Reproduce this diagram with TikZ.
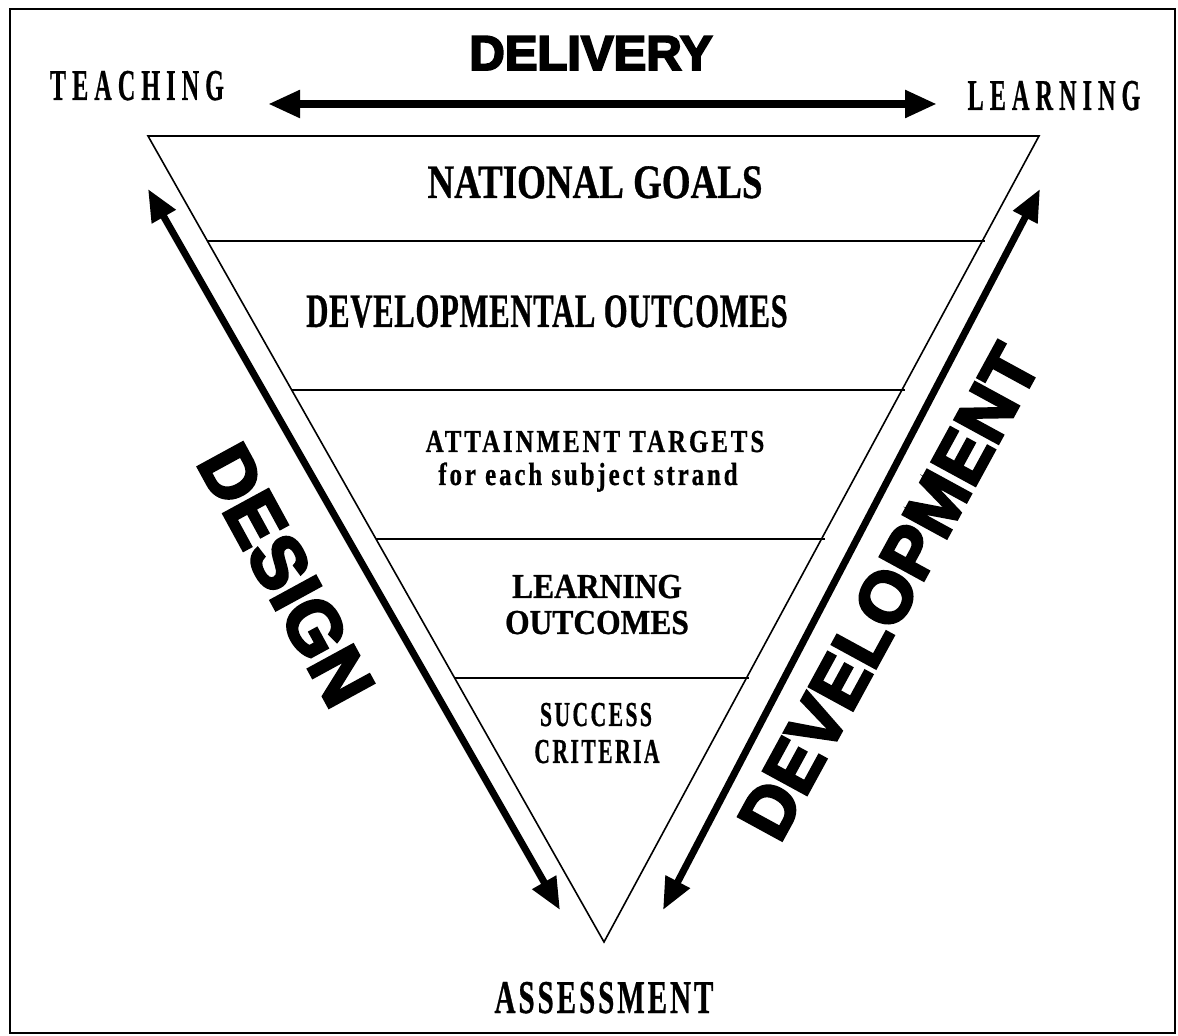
\documentclass[tikz,border=0pt]{standalone}
\usepackage{fontspec}
\setmainfont{Liberation Serif}[BoldFeatures={FakeBold=0.8}]
\newfontfamily\blocksans{Liberation Sans}[BoldFeatures={FakeBold=4}]
\usetikzlibrary{arrows.meta,calc}

% squeeze a label horizontally
\newcommand\narrow[2]{\scalebox{#1}[1]{#2}}

\tikzset{
  lbl/.style 2 args={anchor=base, inner sep=0pt,
    font=\bfseries\fontsize{#1}{#1}\selectfont\addfontfeature{LetterSpace=#2}},
  bigword/.style={inner sep=0pt, font=\blocksans\bfseries\fontsize{#1}{#1}\selectfont},
  bigarrow/.style={{Triangle[length=16pt,width=13pt]}-{Triangle[length=16pt,width=13pt]},
    line width=#1},
  level/.style={line width=1.1pt}
}

\begin{document}
\begin{tikzpicture}[x=0.5pt,y=-0.5pt]
\useasboundingbox (0,0) rectangle (1178,1036);
\draw[line width=1.4pt] (10,9) rectangle (1175,1033);

% the inverted triangle and its bands
\coordinate (tl) at (148,136);
\coordinate (tr) at (1039,136);
\coordinate (bot) at (604,942);
\draw[line width=0.8pt] (tl) -- (tr) -- (bot) -- cycle;
\foreach \t in {0.1303,0.3151,0.5,0.6725}
  \draw[level] ($(tl)!\t!(bot)$) -- ($(tr)!\t!(bot)+(3,0)$);

% band labels
\node[lbl={24pt}{0}] (goals) at (595,198) {\narrow{0.77}{NATIONAL GOALS}};
\node[lbl={24pt}{2.2}] (devout) at (547,327) {\narrow{0.64}{DEVELOPMENTAL OUTCOMES}};
\node[lbl={16pt}{11.7}] (attain) at (595,452) {\narrow{0.78}{ATTAINMENT TARGETS}};
\node[lbl={16pt}{11.5}] (strand) at (588,485) {\narrow{0.78}{for each subject strand}};
\node[lbl={17.5pt}{0}] (learn) at (597,598) {\narrow{0.9}{LEARNING}};
\node[lbl={17.5pt}{0}] (learnout) at (597,634) {\narrow{0.9}{OUTCOMES}};
\node[lbl={17.5pt}{11}] (success) at (596,726) {\narrow{0.62}{SUCCESS}};
\node[lbl={17.5pt}{11}] (criteria) at (597,763) {\narrow{0.62}{CRITERIA}};

% corner words
\node[lbl={22pt}{25}] (teaching) at (137,100) {\narrow{0.55}{TEACHING}};
\node[lbl={22pt}{25}] (learning) at (1054,110) {\narrow{0.55}{LEARNING}};
\node[lbl={23.5pt}{10}] (assess) at (604,1013) {\narrow{0.62}{ASSESSMENT}};

% the three big words
\node[bigword=24.5pt, anchor=base] (delivery) at (591,70) {DELIVERY};
\node[bigword=37pt, rotate=-61.4] (design) at (286,575) {DESIGN};
\node[bigword=36pt, rotate=61.4] (develop) at (889,592) {DEVELOPMENT};

% arrows
\coordinate (delL) at (268,104);
\coordinate (delR) at (937,104);
\coordinate (desT) at (148,189);
\coordinate (desB) at (560,910);
\coordinate (devT) at (1040,189);
\coordinate (devB) at (663,910);
\draw[bigarrow=4pt] (delL) -- (delR);
\draw[bigarrow=3.5pt] (desT) -- (desB);
\draw[bigarrow=3.5pt] (devB) -- (devT);
\end{tikzpicture}
\end{document}
